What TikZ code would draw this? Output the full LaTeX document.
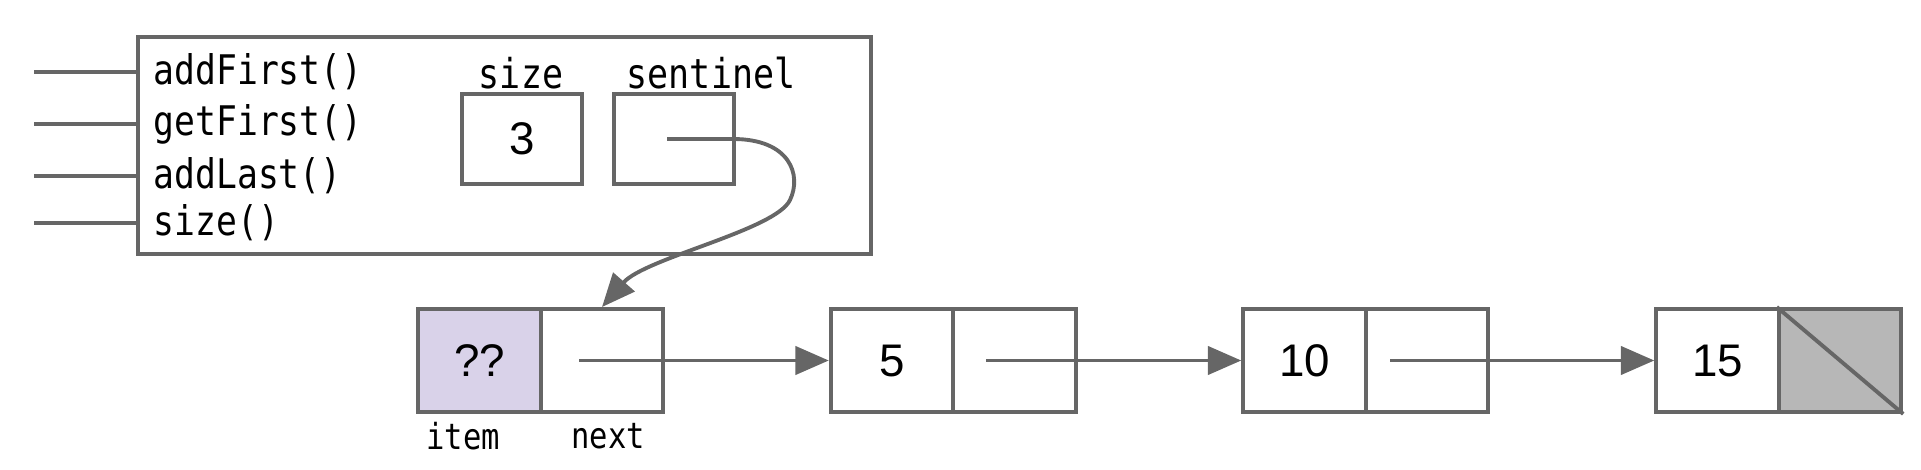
\documentclass[tikz,border=0pt]{standalone}
\usepackage{fontspec}
\setmainfont{Liberation Sans}
\newfontfamily\codefont[FakeStretch=0.85]{DejaVu Sans Mono}
\usetikzlibrary{arrows.meta}
\definecolor{linegray}{HTML}{666666}
\definecolor{itemfill}{HTML}{D9D2E9}
\definecolor{nullfill}{HTML}{B7B7B7}
\tikzset{
  box/.style={draw=linegray, line width=1.1pt, inner sep=0pt},
  cell/.style={box, minimum width=1.225cm, minimum height=1.03cm, font=\fontsize{13}{15}\selectfont},
  ptr/.style={draw=linegray, line width=1.1pt, -{Triangle[length=9.5pt,width=8pt]}},
  stub/.style={draw=linegray, line width=1.1pt},
  method/.style={anchor=west, inner sep=0pt, font=\codefont\fontsize{11.6}{13}\selectfont},
  toplabel/.style={inner sep=0pt, font=\codefont\fontsize{11.7}{13}\selectfont},
  fieldlabel/.style={inner sep=0pt, font=\codefont\fontsize{10.2}{12}\selectfont}
}
\begin{document}
\begin{tikzpicture}[x=0.01cm, y=-0.01cm]
\useasboundingbox (0,0) rectangle (1921,470);
% outer object box
\node[box, minimum width=7.33cm, minimum height=2.17cm] (outer) at (504.5,145.5) {};
% stubs
\coordinate (s1) at (34,72);
\coordinate (s2) at (34,124);
\coordinate (s3) at (34,176);
\coordinate (s4) at (34,223);
\draw[stub] (s1) -- (s1 -| outer.west);
\draw[stub] (s2) -- (s2 -| outer.west);
\draw[stub] (s3) -- (s3 -| outer.west);
\draw[stub] (s4) -- (s4 -| outer.west);
% methods
\node[method] (m1) at (153,72) {addFirst()};
\node[method] (m2) at (153,124) {getFirst()};
\node[method] (m3) at (153,176) {addLast()};
\node[method] (m4) at (153,223) {size()};
% fields
\node[toplabel] (lsize) at (521,73) {size};
\node[toplabel] (lsent) at (711,73) {sentinel};
\node[box, minimum width=1.2cm, minimum height=0.9cm, font=\fontsize{13}{15}\selectfont] (sizebox) at (522,139) {3};
\node[box, minimum width=1.2cm, minimum height=0.9cm] (sentbox) at (674,139) {};
% list nodes
\node[cell, fill=itemfill] (n1i) at (479.5,360.5) {??};
\node[cell] (n1n) at (602,360.5) {};
\node[cell] (n2i) at (892,360.5) {5};
\node[cell] (n2n) at (1014.5,360.5) {};
\node[cell] (n3i) at (1304.5,360.5) {10};
\node[cell] (n3n) at (1427,360.5) {};
\node[cell] (n4i) at (1717.5,360.5) {15};
\node[cell, fill=nullfill] (n4n) at (1840,360.5) {};
\draw[stub] (n4n.north west) -- (n4n.south east);
% labels
\node[fieldlabel] (litem) at (463,436) {item};
\node[fieldlabel] (lnext) at (608,436) {next};
% pointers
\coordinate (sp) at (667,139);
\draw[ptr] (sp) -- (733,139) .. controls (790,139) and (802,175) .. (790,200) .. controls (776,230) and (645,258) .. (n1n.north);
\coordinate (p1) at (579,360.5);
\coordinate (p2) at (986,360.5);
\coordinate (p3) at (1390,360.5);
\draw[ptr] (p1) -- (n2i.west);
\draw[ptr] (p2) -- (n3i.west);
\draw[ptr] (p3) -- (n4i.west);
\end{tikzpicture}
\end{document}
